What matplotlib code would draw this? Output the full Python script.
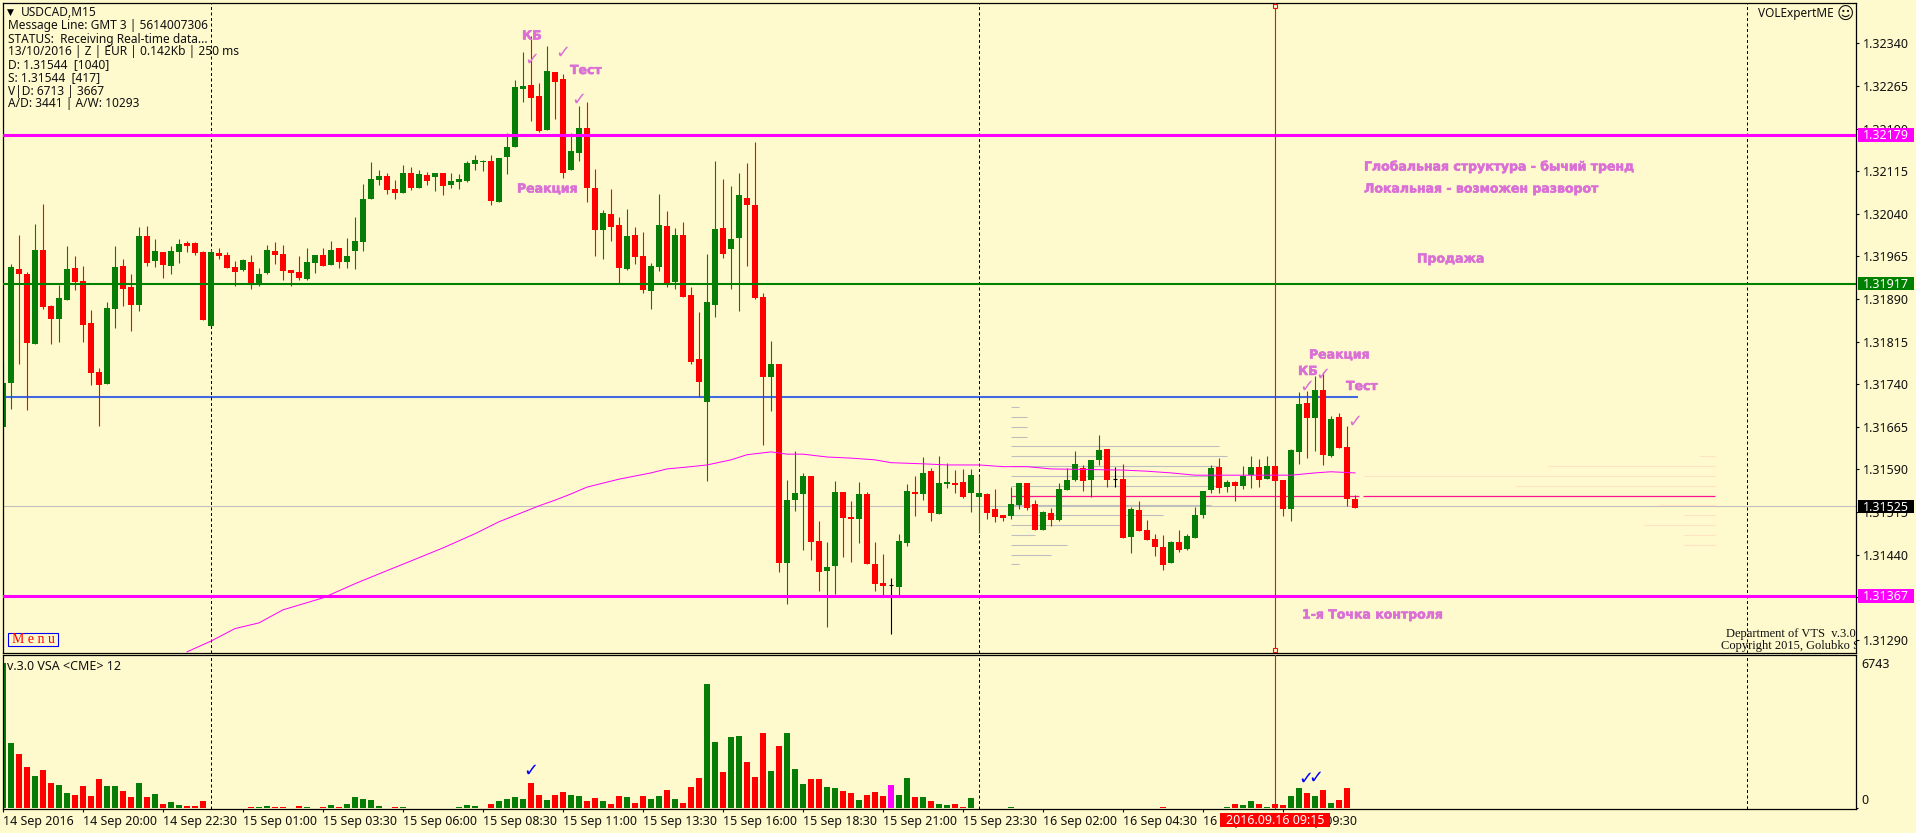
import numpy as np
import matplotlib
matplotlib.use("Agg")
import matplotlib.pyplot as plt
import matplotlib.patheffects as pe
from matplotlib.patches import Rectangle

W, H = 1916, 833

# prices are kept as points above 1.30000 (1776 -> 1.31776)
opens = [1665, 1742, 1943, 1934, 1811, 1976, 1878, 1855, 1888, 1945,
         1922, 1848, 1762, 1741, 1872, 1948, 1911, 1879, 2001, 1957,
         1973, 1948, 1973, 1989, 1989, 1973, 1843, 1971, 1967, 1946,
         1941, 1955, 1915, 1936, 1974, 1969, 1941, 1938, 1925, 1953,
         1967, 1950, 1980, 1955, 1974, 1990, 2066, 2099, 2106, 2084,
         2077, 2112, 2085, 2108, 2105, 2112, 2091, 2096, 2098, 2128,
         2131, 2133, 2061, 2140, 2157, 2259, 2266, 2247, 2187, 2289,
         2277, 2117, 2147, 2191, 2085, 2011, 2040, 2020, 1943, 2003,
         1966, 1904, 1946, 2018, 1920, 2003, 1897, 1785, 1709, 1879,
         2015, 1978, 1997, 2068, 2055, 1894, 1753, 1776, 1426, 1536,
         1547, 1579, 1464, 1412, 1420, 1551, 1507, 1503, 1547, 1424,
         1391, 1387, 1383, 1461, 1551, 1547, 1587, 1512, 1565, 1566,
         1568, 1549, 1542, 1547, 1521, 1510, 1508, 1528, 1566, 1529,
         1484, 1514, 1501, 1554, 1572, 1593, 1572, 1607, 1626, 1573,
         1573, 1471, 1519, 1484, 1468, 1454, 1426, 1463, 1450, 1470,
         1510, 1554, 1595, 1559, 1568, 1561, 1580, 1595, 1573, 1596,
         1572, 1521, 1621, 1707, 1681, 1730, 1614, 1682, 1630, 1538]
closes = [1742, 1946, 1934, 1813, 1976, 1876, 1855, 1892, 1943, 1920,
          1844, 1760, 1739, 1874, 1946, 1908, 1879, 2001, 1953, 1974,
          1950, 1974, 1987, 1983, 1971, 1853, 1973, 1966, 1945, 1938,
          1959, 1915, 1934, 1976, 1967, 1939, 1936, 1927, 1955, 1967,
          1948, 1976, 1955, 1966, 1992, 2066, 2101, 2106, 2082, 2077,
          2112, 2085, 2110, 2098, 2112, 2089, 2098, 2101, 2129, 2135,
          2133, 2062, 2138, 2157, 2263, 2265, 2244, 2186, 2291, 2272,
          2112, 2150, 2191, 2085, 2011, 2041, 2017, 1945, 2001, 1964,
          1906, 1948, 2020, 1916, 2003, 1894, 1779, 1744, 1885, 2013,
          1969, 1996, 2073, 2055, 1892, 1753, 1776, 1426, 1536, 1549,
          1579, 1463, 1410, 1419, 1551, 1505, 1503, 1547, 1424, 1389,
          1385, 1387, 1464, 1552, 1547, 1584, 1514, 1566, 1568, 1563,
          1542, 1580, 1549, 1514, 1507, 1505, 1529, 1566, 1522, 1484,
          1515, 1501, 1556, 1572, 1600, 1570, 1607, 1624, 1572, 1573,
          1470, 1521, 1482, 1466, 1454, 1422, 1463, 1449, 1473, 1510,
          1552, 1593, 1558, 1568, 1561, 1579, 1595, 1572, 1596, 1570,
          1521, 1624, 1705, 1681, 1730, 1616, 1679, 1628, 1538, 1522]
highs = [1777, 1952, 2003, 1938, 2022, 2057, 1879, 1915, 1983, 1966,
         1948, 1871, 1769, 1885, 1983, 1960, 1934, 2017, 2018, 1996,
         1973, 1983, 1996, 1992, 1990, 1974, 1978, 1980, 1973, 1957,
         1960, 1967, 1945, 1985, 1990, 1985, 1941, 1966, 1980, 1967,
         1980, 1992, 1980, 1997, 2034, 2092, 2131, 2117, 2112, 2099,
         2126, 2122, 2117, 2113, 2112, 2112, 2112, 2110, 2133, 2143,
         2135, 2143, 2138, 2182, 2275, 2325, 2353, 2270, 2335, 2289,
         2286, 2182, 2230, 2237, 2119, 2047, 2084, 2034, 2048, 2017,
         2008, 1953, 2075, 2045, 2015, 2025, 1911, 1867, 1969, 2133,
         2101, 2089, 2112, 2129, 2166, 1901, 1816, 1776, 1572, 1623,
         1584, 1579, 1500, 1463, 1570, 1551, 1535, 1568, 1551, 1463,
         1441, 1399, 1477, 1565, 1579, 1612, 1593, 1614, 1602, 1589,
         1591, 1591, 1579, 1549, 1556, 1510, 1559, 1566, 1566, 1536,
         1517, 1522, 1566, 1593, 1623, 1598, 1607, 1651, 1626, 1595,
         1600, 1524, 1535, 1501, 1477, 1475, 1464, 1484, 1477, 1524,
         1552, 1598, 1610, 1572, 1570, 1596, 1614, 1609, 1614, 1596,
         1572, 1626, 1726, 1728, 1755, 1762, 1684, 1689, 1667, 1545]
lows = [1665, 1697, 1776, 1695, 1811, 1872, 1811, 1814, 1888, 1906,
        1814, 1739, 1667, 1741, 1839, 1878, 1834, 1869, 1948, 1946,
        1927, 1934, 1953, 1973, 1967, 1853, 1843, 1960, 1945, 1913,
        1939, 1908, 1913, 1934, 1952, 1924, 1913, 1924, 1924, 1936,
        1948, 1950, 1945, 1945, 1943, 1974, 2066, 2091, 2075, 2066,
        2077, 2082, 2085, 2091, 2080, 2073, 2085, 2084, 2096, 2117,
        2115, 2055, 2061, 2110, 2157, 2237, 2203, 2184, 2187, 2207,
        2103, 2117, 2133, 2061, 1966, 1960, 1992, 1916, 1941, 1952,
        1901, 1872, 1939, 1911, 1908, 1894, 1776, 1718, 1570, 1858,
        1962, 1908, 1869, 1948, 1890, 1633, 1693, 1410, 1354, 1517,
        1449, 1431, 1376, 1313, 1371, 1436, 1427, 1461, 1424, 1376,
        1369, 1301, 1369, 1456, 1508, 1536, 1500, 1512, 1558, 1549,
        1540, 1515, 1478, 1503, 1498, 1500, 1503, 1521, 1519, 1484,
        1484, 1491, 1500, 1554, 1570, 1552, 1542, 1598, 1559, 1559,
        1470, 1443, 1482, 1466, 1438, 1413, 1426, 1445, 1449, 1470,
        1505, 1549, 1549, 1551, 1535, 1556, 1558, 1559, 1573, 1570,
        1508, 1500, 1600, 1610, 1623, 1598, 1612, 1628, 1526, 1522]

volumes = [6743, 3038, 2527, 1922, 1504, 1783, 1178, 1085, 713, 620,
           1039, 574, 1364, 1039, 1039, 806, 527, 1178, 527, 667,
           202, 295, 155, 109, 109, 341, 0, 0, 0, 0,
           30, 62, 62, 109, 62, 62, 30, 109, 62, 30,
           62, 155, 62, 202, 527, 434, 388, 109, 30, 62,
           62, 30, 30, 30, 30, 30, 30, 62, 155, 109,
           30, 202, 341, 434, 527, 434, 1178, 620, 388, 620,
           760, 620, 574, 341, 481, 341, 202, 574, 527, 248,
           574, 434, 574, 853, 434, 248, 992, 1411, 5782, 3085,
           1690, 3317, 3364, 2155, 1457, 3503, 1736, 2899, 3503, 1829,
           1132, 1364, 1364, 992, 946, 806, 713, 388, 620, 760,
           574, 1085, 620, 1411, 527, 527, 341, 202, 155, 202,
           62, 481, 0, 0, 0, 0, 62, 30, 30, 30,
           30, 30, 30, 30, 30, 30, 30, 30, 30, 30,
           30, 30, 30, 30, 30, 62, 30, 30, 30, 30,
           30, 30, 30, 62, 202, 155, 341, 202, 62, 202,
           155, 574, 946, 713, 574, 853, 248, 388, 946, 30]
vol_colors = ("ggrrgrrggr" "rrrggrrgrg" "rggrrrgggg" "grggrrrrgg" "rgrgggggrr"
              "grgrgrgggg" "grggggrrgr" "rggrrgrrgr" "rggrgrrrgg" "rggrrrgrgg"
              "grrggrrgrr" "rmggrgrggr" "rgggggggrr" "grgggrggrm" "rgrrrrgrgg"
              "ggrgrggrgr" "rggrgrgrrr")

# moving average, read at a few bars
ma_bars = [23, 26, 29, 32, 35, 40, 44, 48, 51, 55, 59, 62, 67, 69, 71, 73, 77, 81,
           83, 86, 88, 91, 93, 96, 98, 100, 103, 106, 109, 111, 115, 118, 122, 125,
           128, 131, 140, 143, 146, 149, 161, 164, 166, 169]
ma_vals = [1269, 1288, 1310, 1320, 1343, 1364, 1389, 1412, 1429, 1452, 1477, 1498,
           1526, 1536, 1547, 1559, 1573, 1584, 1591, 1595, 1598, 1607, 1616, 1621,
           1617, 1617, 1612, 1610, 1607, 1602, 1600, 1598, 1598, 1595, 1595, 1591,
           1589, 1587, 1584, 1580, 1580, 1584, 1586, 1584]

# level profile, left block grey and right block pale
prof_levels = [1700, 1682, 1665, 1647, 1631, 1614, 1596, 1579, 1561,
               1528, 1510, 1493, 1475, 1457, 1440, 1424]
prof_ends = [127, 128, 128, 128, 152, 153, 152, 152, 152, 151, 145, 140, 129, 133, 131, 127]
prof2_levels = [1614, 1596, 1579, 1561, 1528, 1510, 1493, 1475, 1457]
prof2_starts = [212, 193, 170, 189, 207, 210, 205, 210, 210]

level_magenta = [1.32179, 1.31367]
level_green = 1.31917
level_blue = 1.31718
level_pink = 1.31543
level_last = 1.31525

price_ticks = [1.32340, 1.32265, 1.32190, 1.32115, 1.32040, 1.31965, 1.31890, 1.31815,
               1.31740, 1.31665, 1.31590, 1.31515, 1.31440, 1.31365, 1.31290]
date_ticks = ["14 Sep 2016", "14 Sep 20:00", "14 Sep 22:30", "15 Sep 01:00", "15 Sep 03:30",
              "15 Sep 06:00", "15 Sep 08:30", "15 Sep 11:00", "15 Sep 13:30", "15 Sep 16:00",
              "15 Sep 18:30", "15 Sep 21:00", "15 Sep 23:30", "16 Sep 02:00", "16 Sep 04:30",
              "16 Sep 07:00", "16 Sep 09:30"]
day_bars = [26, 122, 218]
cursor_bar = 159

info_lines = ["Message Line: GMT 3 | 5614007306", "STATUS:  Receiving Real-time data...",
              "13/10/2016 | Z | EUR | 0.142Kb | 250 ms", "D: 1.31544  [1040]", "S: 1.31544  [417]",
              "V|D: 6713 | 3667", "A/D: 3441 | A/W: 10293"]

BG = "#FFFACD"
GREEN = "#067D06"
RED = "#FF0000"
MAGENTA = "#FF00FF"
ORCHID = "#DA70D6"
FONT = "Noto Sans"
FS = 8.6
FS_AXIS = 9.0


def to_price(points):
    return 1.30 + np.array(points) / 1e5


def box(x0, y0, x1, y1):
    return [x0 / W, 1 - y1 / H, (x1 - x0) / W, (y1 - y0) / H]


def put(x, y, s, **kw):
    kw.setdefault("family", FONT)
    kw.setdefault("fontsize", FS)
    kw.setdefault("color", "#101010")
    kw.setdefault("va", "center")
    return fig.text(x / W, 1 - y / H, s, **kw)


opens, closes, highs, lows = map(to_price, (opens, closes, highs, lows))
bars = np.arange(len(opens))
candle_col = np.where(closes > opens, GREEN, np.where(closes < opens, RED, "#000000"))

fig = plt.figure(figsize=(W / 100, H / 100), dpi=100, facecolor=BG)
ax = fig.add_axes(box(2.5, 2.5, 1856, 653), facecolor=BG)
ax2 = fig.add_axes(box(2.5, 654.5, 1856, 809), facecolor=BG)

for a in (ax, ax2):
    a.set_xlim(-0.0625, 231.625)
    for s in a.spines.values():
        s.set_linewidth(0.9)
        s.set_color("black")
    for b in day_bars:
        a.axvline(b, color="black", lw=0.72, ls=(0, (3, 2.5)), zorder=1.5)
    a.axvline(cursor_bar, color="#E81010", lw=0.8, zorder=3.2)

# main panel
ax.set_ylim(1.31267, 1.32412)
ax.axhline(level_last, color="#C0C0C0", lw=0.8, zorder=1)
ax.hlines(to_price(prof_levels), 126, prof_ends, color="#BEBEBE", lw=0.8, zorder=1.2)
ax.hlines(to_price(prof2_levels), prof2_starts, 214, color="#FFE4C4", lw=0.8, zorder=1.2)
ax.hlines([level_pink, level_pink], [126, 170], [169.5, 214], color="#FF1493", lw=0.9, zorder=1.3)
ax.hlines(level_blue, 0, 169.4, color="#4169E1", lw=1.5, zorder=1.4)

ax.vlines(bars, lows, highs, color=candle_col, lw=0.8, zorder=2)
ax.bar(bars, closes - opens, bottom=opens, width=0.66, color=candle_col, lw=0, zorder=2.1)
doji = closes == opens
ax.hlines(closes[doji], bars[doji] - 0.31, bars[doji] + 0.31, color="black", lw=0.8, zorder=2.1)

ax.plot(ma_bars, to_price(ma_vals), color=MAGENTA, lw=0.72, zorder=2.2)
ax.axhline(level_green, color="#008000", lw=1.5, zorder=3)
for lev in level_magenta:
    ax.axhline(lev, color=MAGENTA, lw=2.2, zorder=3)

ax.plot([cursor_bar, cursor_bar], [0.005, 0.995], ls="none", marker="s", ms=3.2, mfc=BG, mec="#E81010",
        mew=0.8, transform=ax.get_xaxis_transform(), clip_on=False, zorder=4)

ax.yaxis.tick_right()
ax.set_yticks(price_ticks)
ax.set_yticklabels([f"{p:.5f}" for p in price_ticks], family=FONT, fontsize=FS_AXIS, color="#101010")
ax.tick_params(axis="y", length=2.3, width=0.8, pad=2.5)
ax.set_xticks([])

# price tags on the right edge
for price, col in [(level_magenta[0], MAGENTA), (level_green, "#008000"), (level_last, "black"),
                   (level_magenta[1], MAGENTA)]:
    ax.add_patch(Rectangle((1.0012, price - 0.000118), 0.0302, 0.000236, transform=ax.get_yaxis_transform(),
                           color=col, lw=0, clip_on=False, zorder=6))
    ax.text(1.0039, price - 0.000012, f"{price:.5f}", transform=ax.get_yaxis_transform(), family=FONT,
            fontsize=FS_AXIS, color="white", va="center", clip_on=False, zorder=7)

# volume panel
colmap = {"g": GREEN, "r": RED, "m": MAGENTA}
ax2.set_ylim(-30, 7160)
ax2.bar(bars, volumes, width=0.66, color=[colmap[c] for c in vol_colors], lw=0, zorder=2)
ax2.yaxis.tick_right()
ax2.set_yticks([0])
ax2.set_yticklabels([""])
ax2.tick_params(axis="y", length=1.5, width=0.8)
ax2.set_xticks(np.arange(0, 170, 10))
ax2.set_xticklabels(date_ticks, family=FONT, fontsize=FS_AXIS, color="#101010", ha="left")
ax2.tick_params(axis="x", length=2.3, width=0.8, pad=2.2)

put(1861, 664, "6743", fontsize=FS_AXIS)
put(1861, 801, "0", fontsize=FS_AXIS)

# header and indicator text
put(10.5, 12.5, "▼", family="DejaVu Sans", fontsize=6.5, ha="center", color="black")
put(21, 13, "USDCAD,M15")
for k, line in enumerate(info_lines):
    put(7.5, 26 + 13 * k, line)
put(7, 666, "v.3.0 VSA <CME> 12", fontsize=FS_AXIS)
put(1758.5, 14, "VOLExpertME", fontsize=8.5)
put(1845, 13.5, "☺", family="DejaVu Sans", fontsize=12, ha="center")

fig.add_artist(Rectangle((8 / W, 1 - 646 / H), 50 / W, 13 / H, transform=fig.transFigure, fc="none", ec="#0000FF",
                         lw=0.8, zorder=5))
put(33, 639.5, "M e n u", family="Liberation Serif", fontsize=10, color="red", ha="center", zorder=6)

for y, s, x in [(634.5, "Department of VTS  v.3.0 |", 1726), (645.5, "Copyright 2015, Golubko S.", 1721)]:
    ax.text(x / W, 1 - y / H, s, transform=fig.transFigure, family="Liberation Serif", fontsize=9,
            color="#101010", va="center", clip_on=True, zorder=5)

# hand drawn notes
note = dict(family="DejaVu Sans", fontweight="bold", fontsize=9.0, color=ORCHID, va="center", zorder=6,
            path_effects=[pe.withStroke(linewidth=0.4, foreground=ORCHID)])
for x, y, s in [(522, 36, "КБ"), (570, 70.5, "Тест"), (517, 189, "Реакция"),
                (1309, 355, "Реакция"), (1298, 371.5, "КБ"), (1346, 386.5, "Тест"),
                (1364, 167, "Глобальная структура - бычий тренд"),
                (1364, 189, "Локальная - возможен разворот"),
                (1417, 259, "Продажа"), (1302, 615, "1-я Точка контроля")]:
    put(x, y, s, **note)

tick = dict(family="DejaVu Sans", fontsize=13, ha="center", zorder=6)
for x, y in [(532, 60), (563, 53), (579, 100), (1307, 387), (1323, 375), (1355, 422)]:
    put(x, y, "✓", color=ORCHID, **tick)
for x, y in [(531, 771), (1306, 779), (1316, 778)]:
    put(x, y, "✓", color="#0000FF", fontweight="bold", **tick)

# cursor date tag over the axis labels
fig.add_artist(Rectangle((1220 / W, 1 - 827 / H), 110 / W, 14 / H, transform=fig.transFigure, color=RED, lw=0, zorder=5))
put(1275, 820, "2016.09.16 09:15", color="white", ha="center", fontsize=FS_AXIS, zorder=6)

fig.savefig("out.png", dpi=100, facecolor=BG)
